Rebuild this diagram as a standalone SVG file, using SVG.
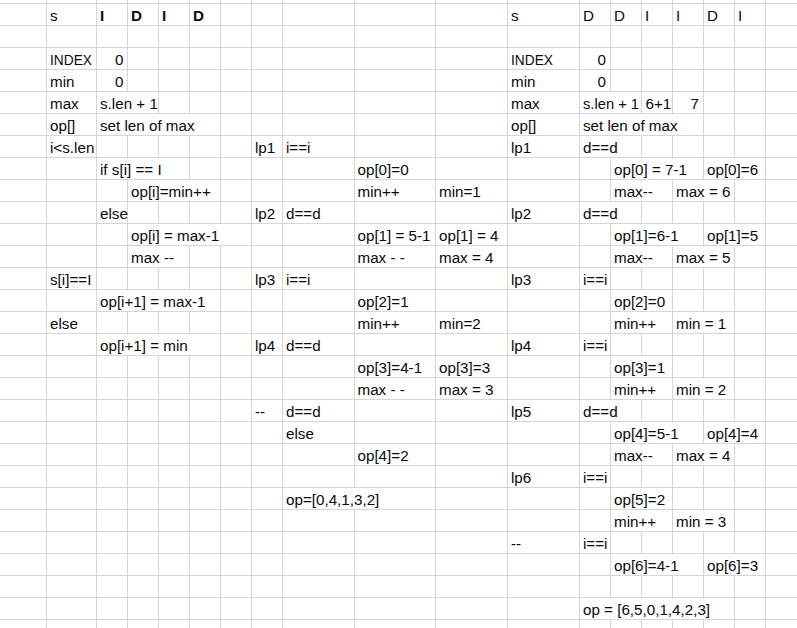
<svg xmlns="http://www.w3.org/2000/svg" width="797" height="628" viewBox="0 0 797 628">
<style>
.g{stroke:#d6d6d6;stroke-width:1;fill:none}
.m{fill:#ffffff}
text{font-family:"Liberation Sans",Arial,sans-serif;font-size:15.2px;fill:#0a0a0a}
.b{font-weight:bold}
.r{text-anchor:end}
</style>
<rect width="797" height="628" fill="#ffffff"/>
<g id="grid" class="g">
<path d="M46.5 0V628M96.5 0V628M127.5 0V628M158.5 0V628M189.5 0V628M220.5 0V628M251.5 0V628M282.5 0V628M354.5 0V628M435.5 0V628M507.5 0V628M579.5 0V628M610.5 0V628M641.5 0V628M672.5 0V628M703.5 0V628M734.5 0V628M765.5 0V628"/>
<path d="M0 3.5H797M0 25.5H797M0 47.5H797M0 69.5H797M0 91.5H797M0 113.5H797M0 135.5H797M0 157.5H797M0 179.5H797M0 201.5H797M0 223.5H797M0 245.5H797M0 267.5H797M0 289.5H797M0 311.5H797M0 333.5H797M0 355.5H797M0 377.5H797M0 399.5H797M0 421.5H797M0 443.5H797M0 465.5H797M0 487.5H797M0 509.5H797M0 531.5H797M0 553.5H797M0 575.5H797M0 597.5H797M0 619.5H797"/>
</g>
<g id="overflow-masks" class="m">
<rect x="98" y="92" width="60" height="21"/>
<rect x="580" y="92" width="61" height="21"/>
<rect x="98" y="114" width="122" height="21"/>
<rect x="580" y="114" width="123" height="21"/>
<rect x="580" y="136" width="61" height="21"/>
<rect x="98" y="158" width="91" height="21"/>
<rect x="611" y="158" width="92" height="21"/>
<rect x="704" y="158" width="61" height="21"/>
<rect x="128" y="180" width="92" height="21"/>
<rect x="611" y="180" width="61" height="21"/>
<rect x="673" y="180" width="61" height="21"/>
<rect x="580" y="202" width="61" height="21"/>
<rect x="128" y="224" width="123" height="21"/>
<rect x="611" y="224" width="92" height="21"/>
<rect x="704" y="224" width="61" height="21"/>
<rect x="128" y="246" width="61" height="21"/>
<rect x="611" y="246" width="61" height="21"/>
<rect x="673" y="246" width="61" height="21"/>
<rect x="98" y="290" width="122" height="21"/>
<rect x="611" y="290" width="61" height="21"/>
<rect x="611" y="312" width="61" height="21"/>
<rect x="673" y="312" width="61" height="21"/>
<rect x="98" y="334" width="122" height="21"/>
<rect x="611" y="356" width="61" height="21"/>
<rect x="611" y="378" width="61" height="21"/>
<rect x="673" y="378" width="61" height="21"/>
<rect x="580" y="400" width="61" height="21"/>
<rect x="611" y="422" width="92" height="21"/>
<rect x="704" y="422" width="61" height="21"/>
<rect x="611" y="444" width="61" height="21"/>
<rect x="673" y="444" width="61" height="21"/>
<rect x="283" y="488" width="152" height="21"/>
<rect x="611" y="488" width="61" height="21"/>
<rect x="611" y="510" width="61" height="21"/>
<rect x="673" y="510" width="61" height="21"/>
<rect x="611" y="554" width="92" height="21"/>
<rect x="704" y="554" width="61" height="21"/>
<rect x="580" y="598" width="154" height="21"/>
</g>
<g id="left-block">
<text x="50" y="21.2">s</text>
<text class="b" x="100" y="21.2">I</text>
<text class="b" x="131" y="21.2">D</text>
<text class="b" x="162" y="21.2">I</text>
<text class="b" x="193" y="21.2">D</text>
<text x="50" y="65.2" textLength="42" lengthAdjust="spacingAndGlyphs">INDEX</text>
<text class="r" x="123.5" y="65.2">0</text>
<text x="50" y="87.2">min</text>
<text class="r" x="123.5" y="87.2">0</text>
<text x="50" y="109.2">max</text>
<text x="100" y="109.2">s.len + 1</text>
<text x="50" y="131.2">op[]</text>
<text x="100" y="131.2">set len of max</text>
<text x="50" y="153.2">i&lt;s.len</text>
<text x="100" y="175.2">if s[i] == I</text>
<text x="131" y="197.2">op[i]=min++</text>
<text x="100" y="219.2">else</text>
<text x="131" y="241.2">op[i] = max-1</text>
<text x="131" y="263.2">max --</text>
<text x="50" y="285.2">s[i]==I</text>
<text x="100" y="307.2">op[i+1] = max-1</text>
<text x="50" y="329.2">else</text>
<text x="100" y="351.2">op[i+1] = min</text>
</g>
<g id="middle-block">
<text x="255" y="153.2">lp1</text>
<text x="286" y="153.2">i==i</text>
<text x="357.5" y="175.2">op[0]=0</text>
<text x="357.5" y="197.2">min++</text>
<text x="439" y="197.2">min=1</text>
<text x="255" y="219.2">lp2</text>
<text x="286" y="219.2">d==d</text>
<text x="357.5" y="241.2">op[1] = 5-1</text>
<text x="439" y="241.2">op[1] = 4</text>
<text x="357.5" y="263.2">max - -</text>
<text x="439" y="263.2">max = 4</text>
<text x="255" y="285.2">lp3</text>
<text x="286" y="285.2">i==i</text>
<text x="357.5" y="307.2">op[2]=1</text>
<text x="357.5" y="329.2">min++</text>
<text x="439" y="329.2">min=2</text>
<text x="255" y="351.2">lp4</text>
<text x="286" y="351.2">d==d</text>
<text x="357.5" y="373.2">op[3]=4-1</text>
<text x="439" y="373.2">op[3]=3</text>
<text x="357.5" y="395.2">max - -</text>
<text x="439" y="395.2">max = 3</text>
<text x="255" y="417.2">--</text>
<text x="286" y="417.2">d==d</text>
<text x="286" y="439.2">else</text>
<text x="357.5" y="461.2">op[4]=2</text>
<text x="286" y="505.2">op=[0,4,1,3,2]</text>
</g>
<g id="right-block">
<text x="511" y="21.2">s</text>
<text x="583" y="21.2">D</text>
<text x="614" y="21.2">D</text>
<text x="645" y="21.2">I</text>
<text x="676" y="21.2">I</text>
<text x="707" y="21.2">D</text>
<text x="738" y="21.2">I</text>
<text x="511" y="65.2" textLength="42" lengthAdjust="spacingAndGlyphs">INDEX</text>
<text class="r" x="606" y="65.2">0</text>
<text x="511" y="87.2">min</text>
<text class="r" x="606" y="87.2">0</text>
<text x="511" y="109.2">max</text>
<text x="583" y="109.2" textLength="56" lengthAdjust="spacingAndGlyphs">s.len + 1</text>
<text x="645.5" y="109.2">6+1</text>
<text class="r" x="699" y="109.2">7</text>
<text x="511" y="131.2">op[]</text>
<text x="583" y="131.2">set len of max</text>
<text x="511" y="153.2">lp1</text>
<text x="583" y="153.2">d==d</text>
<text x="614" y="175.2">op[0] = 7-1</text>
<text x="707" y="175.2">op[0]=6</text>
<text x="614" y="197.2">max--</text>
<text x="676" y="197.2">max = 6</text>
<text x="511" y="219.2">lp2</text>
<text x="583" y="219.2">d==d</text>
<text x="614" y="241.2">op[1]=6-1</text>
<text x="707" y="241.2">op[1]=5</text>
<text x="614" y="263.2">max--</text>
<text x="676" y="263.2">max = 5</text>
<text x="511" y="285.2">lp3</text>
<text x="583" y="285.2">i==i</text>
<text x="614" y="307.2">op[2]=0</text>
<text x="614" y="329.2">min++</text>
<text x="676" y="329.2">min = 1</text>
<text x="511" y="351.2">lp4</text>
<text x="583" y="351.2">i==i</text>
<text x="614" y="373.2">op[3]=1</text>
<text x="614" y="395.2">min++</text>
<text x="676" y="395.2">min = 2</text>
<text x="511" y="417.2">lp5</text>
<text x="583" y="417.2">d==d</text>
<text x="614" y="439.2">op[4]=5-1</text>
<text x="707" y="439.2">op[4]=4</text>
<text x="614" y="461.2">max--</text>
<text x="676" y="461.2">max = 4</text>
<text x="511" y="483.2">lp6</text>
<text x="583" y="483.2">i==i</text>
<text x="614" y="505.2">op[5]=2</text>
<text x="614" y="527.2">min++</text>
<text x="676" y="527.2">min = 3</text>
<text x="511" y="549.2">--</text>
<text x="583" y="549.2">i==i</text>
<text x="614" y="571.2">op[6]=4-1</text>
<text x="707" y="571.2">op[6]=3</text>
<text x="583" y="615.2">op = [6,5,0,1,4,2,3]</text>
</g>
</svg>
